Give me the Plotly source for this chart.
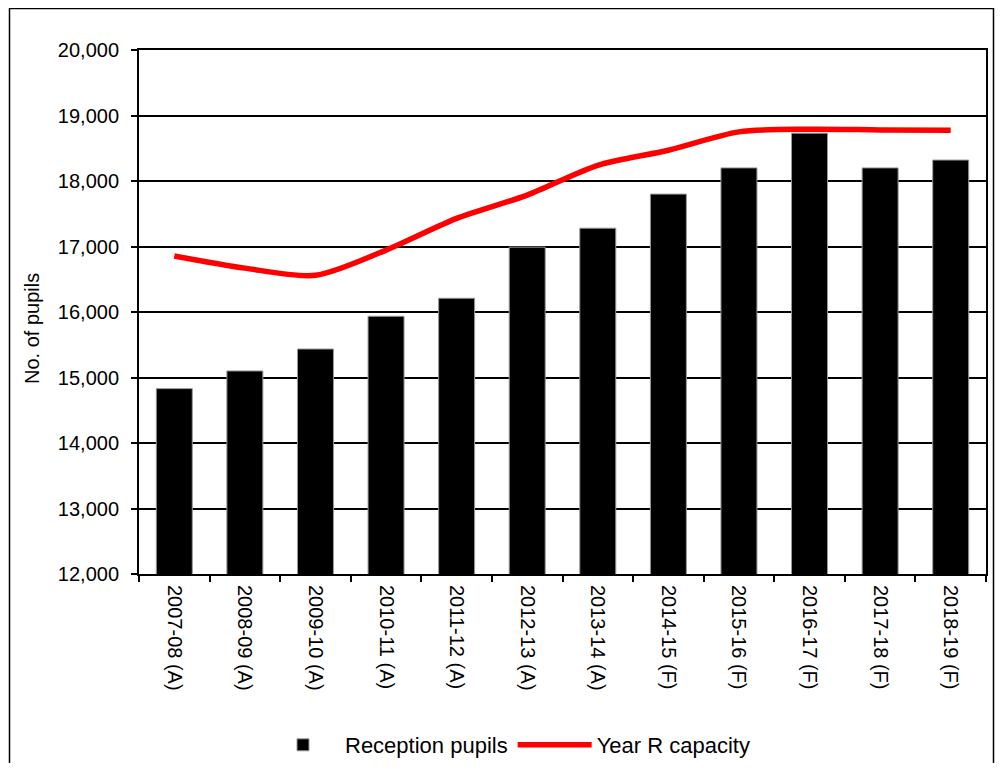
import plotly.graph_objects as go

years = ["2007-08 (A)", "2008-09 (A)", "2009-10 (A)", "2010-11 (A)", "2011-12 (A)",
         "2012-13 (A)", "2013-14 (A)", "2014-15 (F)", "2015-16 (F)", "2016-17 (F)",
         "2017-18 (F)", "2018-19 (F)"]
reception_pupils = [14830, 15100, 15435, 15935, 16210, 16990, 17280, 17800, 18200, 18730, 18200, 18320]
year_r_capacity = [16855, 16670, 16560, 16945, 17430, 17785, 18240, 18470, 18750, 18790, 18780, 18775]
y_ticks = [12000, 13000, 14000, 15000, 16000, 17000, 18000, 19000, 20000]

# page has an 8px body margin; figure coordinates = screen - 8
OFF = 8
W, H = 987, 755
L, R, T, B = 139 - OFF, 986 - OFF, 50 - OFF, 574 - OFF
pw, ph = R - L, B - T

def px(x):
    return (x - OFF - L) / pw

def py(y):
    return (B - (y - OFF)) / ph

font = "Arial, Liberation Sans, sans-serif"

fig = go.Figure()
fig.add_trace(go.Bar(
    x=years, y=reception_pupils, name="Reception pupils",
    marker=dict(color="black", line=dict(color="#999999", width=1)),
))
fig.add_trace(go.Scatter(
    x=years, y=year_r_capacity, name="Year R capacity", mode="lines",
    line=dict(color="#FF0000", width=5.5, shape="spline", smoothing=0.8),
))

fig.update_layout(
    width=W, height=H,
    margin=dict(l=L, r=W - R, t=T, b=H - B, autoexpand=False),
    paper_bgcolor="white", plot_bgcolor="white",
    bargap=0.49,
    font=dict(family=font, size=20, color="black"),
    showlegend=True,
    legend=dict(orientation="h", x=px(508), xanchor="center", y=py(745), yanchor="middle",
                font=dict(size=22), traceorder="normal", itemwidth=74),
    shapes=[dict(type="rect", xref="paper", yref="paper",
                 x0=px(9.5), x1=px(993.5), y0=py(800), y1=py(8.5),
                 line=dict(color="black", width=1.5), fillcolor="rgba(0,0,0,0)", layer="below")],
    annotations=[dict(text="No. of pupils", xref="paper", yref="paper",
                      x=px(32), y=py(329), xanchor="center", yanchor="middle",
                      textangle=-90, showarrow=False, font=dict(size=20))],
)
fig.update_xaxes(
    type="category", tickangle=90, tickson="boundaries", ticks="outside", ticklen=6,
    tickcolor="black", tickwidth=1.5, showline=True, linecolor="black", linewidth=2, mirror=True,
    showgrid=False, tickfont=dict(size=20), ticklabelstandoff=5,
)
fig.update_yaxes(
    range=[12000, 20000], tickvals=y_ticks, tickformat=",", ticks="outside", ticklen=6,
    tickcolor="black", tickwidth=1.5, showline=True, linecolor="black", linewidth=2, mirror=True,
    showgrid=True, gridcolor="black", gridwidth=2, zeroline=False,
    tickfont=dict(size=20), ticklabelstandoff=8,
)

fig.write_html("out.html")
